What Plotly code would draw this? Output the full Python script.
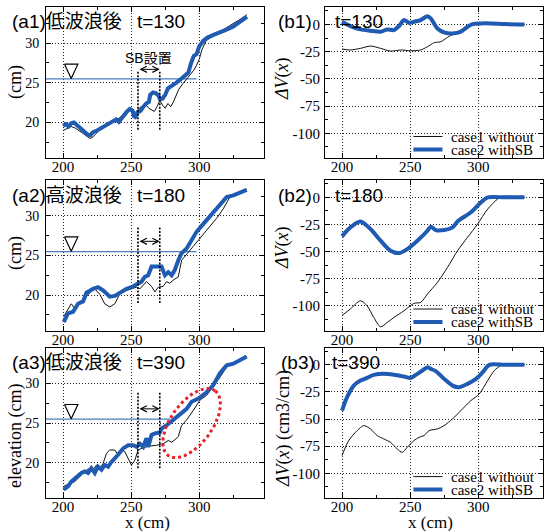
import numpy as np
import plotly.graph_objects as go

W, H = 552, 531

# ---------------- data ----------------
X_RANGE = [187.5, 347.5]
A_Y_RANGE = [15.5, 34.55]
B_Y_RANGE = [-123.0, 16.0]

# (a1) t=130 elevation
a1_case1_x = [200, 203, 206, 209, 212, 215, 218, 220, 222, 225, 228, 231, 234, 237, 240, 243, 246, 249, 251, 253,
              255, 257, 259, 261, 263, 265, 267, 269, 271, 273, 275, 277, 279, 281, 283, 285, 288, 291, 294, 296,
              298, 300, 302, 305, 310, 315, 320, 325, 330, 335]
a1_case1_y = [19.0, 19.3, 19.5, 19.3, 19.0, 18.6, 18.2, 18.0, 18.2, 18.8, 19.3, 19.6, 20.0, 20.2, 20.4, 20.8, 21.2, 21.7, 21.6, 21.3,
              21.6, 22.0, 21.8, 22.2, 21.8, 21.6, 21.4, 22.0, 22.8, 22.2, 21.8, 22.4, 22.0, 22.6, 23.4, 24.2, 24.9, 25.5, 26.1, 26.6,
              27.2, 28.0, 29.2, 30.3, 30.9, 31.4, 31.9, 32.5, 33.0, 33.6]
a1_case2_x = [200, 202, 204, 206, 208, 210, 212, 214, 216, 218, 220, 222, 225, 228, 231, 234, 237, 239, 241, 243,
              245, 247, 249, 251, 252, 253, 255, 257, 259, 261, 263, 264, 266, 268, 270, 271, 273, 275, 277, 280,
              283, 286, 289, 292, 294, 296, 298, 300, 303, 306, 310, 315, 320, 325, 330, 335]
a1_case2_y = [19.6, 19.8, 19.5, 19.9, 20.0, 19.7, 19.4, 19.1, 18.9, 18.5, 18.4, 18.8, 19.0, 19.3, 19.5, 19.8, 20.2, 20.4, 20.1, 20.6,
              21.0, 21.4, 21.7, 21.5, 20.8, 20.7, 21.3, 21.5, 22.0, 22.4, 22.6, 23.5, 23.8, 23.7, 23.4, 23.0, 23.0, 23.5, 24.3, 24.6,
              25.0, 25.4, 25.8, 26.3, 27.5, 28.4, 28.6, 29.6, 30.3, 30.7, 31.0, 31.3, 31.7, 32.1, 32.7, 33.3]

# (a2) t=180 elevation
a2_case1_x = [200.5, 203.7, 206.1, 208.6, 211, 214.7, 218.4, 223.3, 227, 230.6, 234.3, 238, 241.7, 246.6, 250.2, 253.9,
              256.4, 261.3, 265, 267.4, 269.9, 273.5, 276, 278.4, 280.9, 284.6, 287, 293.1, 300, 305.4, 312.7, 317.6,
              322.5, 334.8]
a2_case1_y = [17.3, 18.3, 18.9, 18.3, 18.9, 19.2, 20.1, 20.8, 20.1, 18.9, 18.5, 18.9, 20.2, 20.6, 20.8, 21.0,
              20.8, 21.7, 21.1, 20.4, 21.0, 21.1, 21.7, 21.5, 21.9, 22.3, 24.4, 25.7, 27.1, 28.2, 29.7, 30.9,
              32.4, 33.4]
a2_case2_x = [200.5, 203.7, 207.4, 211, 214.7, 217.2, 222, 225.7, 229.4, 234.3, 238, 241.7, 246.6, 250.2, 253.9, 257.6,
              260, 262.5, 265, 268.6, 272.3, 274.8, 277.2, 279.7, 282.1, 284.6, 287, 290.7, 294.4, 298, 303, 310.3,
              320.1, 325, 334.8]
a2_case2_y = [16.6, 17.7, 17.9, 18.9, 19.2, 20.3, 20.8, 21.0, 20.6, 19.8, 19.9, 20.3, 20.8, 21.0, 21.3, 21.7,
              22.3, 22.5, 23.6, 23.6, 23.6, 22.5, 22.9, 22.5, 23.2, 24.4, 25.3, 25.9, 27.1, 28.0, 29.0, 30.5,
              32.4, 32.6, 33.3]

# (a3) t=390 elevation
a3_case1_x = [200.5, 204.9, 208.6, 212.3, 215.9, 219.6, 222, 224.5, 227, 229.4, 231.9, 234.3, 238, 240.4, 242.9, 245.3,
              247.8, 250.2, 252.7, 255.1, 258.8, 263.7, 268.6, 273.5, 277.2, 279.7, 282.1, 284.6, 287, 290.7, 295.6,
              300.5, 305.4, 310.3, 315.2, 321.3, 325, 334.8]
a3_case1_y = [17.0, 17.4, 17.6, 18.2, 18.9, 19.3, 19.1, 19.7, 19.3, 19.9, 21.2, 21.6, 21.6, 21.0, 21.6, 21.4,
              20.5, 19.7, 20.3, 21.6, 21.9, 22.1, 22.2, 22.4, 22.8, 22.6, 22.9, 23.3, 24.7, 25.4, 26.6,
              27.9, 28.5, 29.6, 30.8, 32.4, 32.6, 33.4]
a3_case2_x = [200.5, 203.7, 206.1, 209.8, 213.5, 215.9, 218.4, 220.8, 223.3, 225.7, 228.2, 230.6, 233.1, 235.5, 238, 240.4,
              244.1, 247.8, 251.5, 254, 256.4, 258.8, 261.3, 262.5, 265, 267.4, 271, 272.3, 275.9, 280.9, 285.8, 290.7,
              294.4, 299.3, 305.4, 310.3, 315.2, 320.1, 325, 334.8]
a3_case2_y = [16.6, 17.0, 17.6, 18.2, 18.7, 18.9, 18.7, 19.3, 18.7, 19.5, 19.1, 19.7, 19.5, 20.1, 20.5, 21.0,
              21.8, 22.2, 22.2, 22.0, 22.4, 22.0, 23.1, 22.0, 23.5, 23.7, 23.8, 24.3, 24.7, 25.4, 26.0, 26.8,
              27.7, 28.1, 28.9, 29.8, 31.3, 32.3, 32.5, 33.4]

# (b1) t=130 volume change
b1_case1_x = [200, 206.1, 213.5, 220.9, 228.3, 235.6, 243, 250.4, 257.7, 262.7, 267.6, 272.5, 277.4, 284.8, 292.1,
              297.1, 304.4, 319.2, 333.9]
b1_case1_y = [-22.6, -23.5, -22.0, -19.9, -22.0, -24.5, -23.5, -24.2, -23.5, -20.5, -16.8, -15.9, -11.9, -6.7, -2.1,
              0.3, 0.3, 0.0, 0.0]
b1_case2_x = [200, 206.1, 213.5, 220.9, 228.3, 233.2, 238.1, 241.8, 245.5, 249.1, 252.8, 257.7, 262.7, 265.1, 270,
              274.9, 281.1, 287.2, 292.1, 295.8, 302, 309.3, 319.2, 333.9]
b1_case2_y = [2.4, -1.5, -4.6, -5.8, -6.7, -4.6, -5.2, -1.5, 4.0, 1.5, 2.4, 4.0, 7.6, 5.5, -3.7,
              -7.3, -8.3, -6.7, -2.1, 0.3, 0.9, 0.9, 0.3, 0.0]

# (b2) t=180 volume change
b2_case1_x = [200, 206.1, 213.5, 218.4, 223.3, 228.3, 233.2, 238.1, 245.5, 252.8, 257.7, 262.7, 270, 277.4, 284.8,
              292.1, 299.5, 306.9, 314.3, 319.2, 333.9]
b2_case1_y = [-109.0, -103.0, -95.4, -100.0, -110.8, -119.4, -115.4, -110.8, -104.6, -97.8, -96.9, -89.2, -78.5, -64.6, -49.2,
              -36.9, -24.6, -10.8, -1.5, 0.9, 0.0]
b2_case2_x = [200, 206.1, 213.5, 220.9, 228.3, 235.6, 241.8, 247.9, 255.3, 262.7, 265.1, 268.8, 274.9, 281.1, 284.8,
              294.6, 302, 306.9, 319.2, 333.9]
b2_case2_y = [-36.0, -27.7, -22.2, -29.2, -40.0, -49.2, -51.4, -47.7, -40.0, -30.8, -27.1, -30.2, -30.2, -27.7, -22.2,
              -13.8, -4.6, 0.0, 0.0, 0.0]

# (b3) t=390 volume change
b3_case1_x = [200, 204.9, 211.1, 216, 220.9, 225.8, 230.7, 235.6, 240.5, 244.2, 247.9, 252.8, 256.5, 260.2, 263.9,
              270, 274.9, 281.1, 287.2, 294.6, 300.7, 306.9, 311.8, 316.7, 321.6, 333.9]
b3_case1_y = [-83.7, -69.8, -60.6, -56.0, -59.1, -65.2, -68.3, -71.4, -77.5, -80.6, -76.0, -69.8, -66.8, -65.2, -60.6,
              -59.1, -56.0, -49.8, -42.2, -32.9, -26.8, -14.5, -5.2, -0.6, 0.0, 0.0]
b3_case2_x = [200, 203.7, 208.6, 213.5, 218.4, 223.3, 230.7, 238.1, 245.5, 250.4, 255.3, 259, 262.7, 265.1, 268.8,
              274.9, 281.1, 286, 292.1, 298.3, 303.2, 308.1, 319.2, 333.9]
b3_case2_y = [-42.2, -29.8, -19.1, -14.5, -12.0, -9.2, -8.3, -9.2, -10.8, -12.0, -8.3, -5.2, -2.2, -3.7, -5.8,
              -12.9, -19.1, -20.6, -17.5, -12.9, -6.8, 0.0, 0.0, 0.0]

a_titles = ["(a1)低波浪後", "(a2)高波浪後", "(a3)低波浪後"]
b_titles = ["(b1)", "(b2)", "(b3)"]
t_labels = ["t=130", "t=180", "t=390"]
legend_names = ["case1 without", "case2 withSB"]

# annotation parameters (water level, SB position)
WL = 25.5
WL_END = [298, 298, 278.5]
SB_X = [255, 271]
SB_Y0 = [19.1, 19.0, 19.3]
SB_Y1 = [26.6, 28.6, 28.9]
ARROW_Y = [26.7, 26.8, 26.8]
TRI_X, TRI_HALF_W, TRI_TOP = 206.0, 4.9, 27.35

BLACK = "#111111"
BLUE = "#1f5bb3"
WL_BLUE = "#4a7cc0"

# ---------------- layout geometry (pixels) ----------------
XA = (46, 264)
XB = (325, 543)
ROWS = [(7, 158.3), (180, 330.7), (347.5, 498.3)]

def px(p):
    return p / W

def py(p):
    return 1 - p / H

fig = go.Figure()

serif = "Liberation Serif"
sans = "Liberation Sans, Noto Sans CJK JP"

a_data = [(a1_case1_x, a1_case1_y, a1_case2_x, a1_case2_y),
          (a2_case1_x, a2_case1_y, a2_case2_x, a2_case2_y),
          (a3_case1_x, a3_case1_y, a3_case2_x, a3_case2_y)]
b_data = [(b1_case1_x, b1_case1_y, b1_case2_x, b1_case2_y),
          (b2_case1_x, b2_case1_y, b2_case2_x, b2_case2_y),
          (b3_case1_x, b3_case1_y, b3_case2_x, b3_case2_y)]

def axis_common():
    return dict(showline=True, linecolor="black", linewidth=1, mirror="ticks",
                ticks="inside", ticklen=5, tickwidth=1, tickcolor="black",
                showgrid=True, gridcolor="#222", griddash="1px,2px", gridwidth=1,
                zeroline=False, tickfont=dict(family=serif, size=15, color="black"))

layout_axes = {}
annotations = []
shapes = []

def txt(x, y, text, size, family, xanchor="center", angle=0, xref="paper", yref="paper"):
    return dict(x=x, y=y, xref=xref, yref=yref, text=text, showarrow=False, textangle=angle,
                xanchor=xanchor, yanchor="middle", font=dict(family=family, size=size, color="black"))

for r in range(3):
    ia = 2 * r + 1
    ib = 2 * r + 2
    xa_name = "x" if ia == 1 else f"x{ia}"
    ya_name = "y" if ia == 1 else f"y{ia}"
    xb_name = f"x{ib}"
    yb_name = f"y{ib}"
    top, bot = ROWS[r]
    ydom = [py(bot), py(top)]

    # x axes
    for name, xd, yname in [(xa_name, XA, ya_name), (xb_name, XB, yb_name)]:
        ax = axis_common()
        ax.update(domain=[px(xd[0]), px(xd[1])], range=X_RANGE, anchor=yname,
                  tickvals=[200, 250, 300], ticklabelstandoff=-5,
                  minor=dict(ticks="inside", ticklen=3, tickcolor="black", tickvals=[225, 275, 325], showgrid=False))
        key = "xaxis" if name == "x" else "xaxis" + name[1:]
        layout_axes[key] = ax
    # a y axis
    ay = axis_common()
    ay.update(domain=ydom, range=A_Y_RANGE, anchor=xa_name, tickvals=[20, 25, 30],
              tickfont=dict(family=serif, size=14, color="black"), ticklabelstandoff=3,
              minor=dict(ticks="inside", ticklen=3, tickcolor="black", tickvals=[17.5, 22.5, 27.5, 32.5], showgrid=False))
    layout_axes["yaxis" if ya_name == "y" else "yaxis" + ya_name[1:]] = ay
    # b y axis
    byv = [0, -25, -50, -75, -100]
    by = axis_common()
    by.update(domain=ydom, range=B_Y_RANGE, anchor=xb_name, tickvals=byv,
              ticktext=[str(v) for v in byv], ticklabelstandoff=1,
              minor=dict(ticks="inside", ticklen=3, tickcolor="black",
                         tickvals=[12.5, -12.5, -37.5, -62.5, -87.5, -112.5], showgrid=False))
    layout_axes["yaxis" + yb_name[1:]] = by

    # ---- a traces ----
    c1x, c1y, c2x, c2y = a_data[r]
    fig.add_trace(go.Scatter(x=[X_RANGE[0], WL_END[r]], y=[WL, WL], mode="lines",
                             line=dict(color=WL_BLUE, width=1.3), xaxis=xa_name, yaxis=ya_name,
                             showlegend=False, hoverinfo="skip"))
    fig.add_trace(go.Scatter(x=c1x, y=c1y, mode="lines", line=dict(color=BLACK, width=1),
                             xaxis=xa_name, yaxis=ya_name, showlegend=False, name=legend_names[0]))
    fig.add_trace(go.Scatter(x=c2x, y=c2y, mode="lines", line=dict(color=BLUE, width=4),
                             xaxis=xa_name, yaxis=ya_name, showlegend=False, name=legend_names[1]))
    fig.add_trace(go.Scatter(x=[TRI_X - TRI_HALF_W, TRI_X + TRI_HALF_W, TRI_X, TRI_X - TRI_HALF_W],
                             y=[TRI_TOP, TRI_TOP, WL + 0.05, TRI_TOP], mode="lines",
                             line=dict(color="black", width=1.2), xaxis=xa_name, yaxis=ya_name,
                             showlegend=False, hoverinfo="skip"))
    for sx in SB_X:
        fig.add_trace(go.Scatter(x=[sx, sx], y=[SB_Y0[r], SB_Y1[r]], mode="lines",
                                 line=dict(color="black", width=1.6, dash="2px,1.5px"),
                                 xaxis=xa_name, yaxis=ya_name, showlegend=False, hoverinfo="skip"))
    annotations.append(dict(x=SB_X[1], y=ARROW_Y[r], ax=SB_X[0], ay=ARROW_Y[r], xref=xa_name, yref=ya_name,
                            axref=xa_name, ayref=ya_name, showarrow=True, arrowhead=5, startarrowhead=5,
                            arrowside="end+start", arrowwidth=1, arrowsize=1.2, arrowcolor="black", text=""))
    if r == 0:
        annotations.append(txt((SB_X[0] + SB_X[1]) / 2, 28.1, "SB設置", 14, sans, xref=xa_name, yref=ya_name))
    if r == 2:
        th = np.linspace(0, 2 * np.pi, 200)
        cx, cy, a_px, b_px, ang = 294.4, 25.0, 40.0, 20.7, np.deg2rad(54)
        dx = a_px * np.cos(th) * np.cos(ang) - b_px * np.sin(th) * np.sin(ang)
        dy = a_px * np.cos(th) * np.sin(ang) + b_px * np.sin(th) * np.cos(ang)
        xs = cx + dx / (218 / (X_RANGE[1] - X_RANGE[0]))
        ys = cy + dy / ((bot - top) / (A_Y_RANGE[1] - A_Y_RANGE[0]))
        fig.add_trace(go.Scatter(x=xs, y=ys, mode="lines", line=dict(color="#e8202a", width=3, dash="dot"),
                                 xaxis=xa_name, yaxis=ya_name, showlegend=False, hoverinfo="skip"))

    # ---- b traces ----
    c1x, c1y, c2x, c2y = b_data[r]
    fig.add_trace(go.Scatter(x=c1x, y=c1y, mode="lines", line=dict(color=BLACK, width=1, shape="spline", smoothing=0.8),
                             xaxis=xb_name, yaxis=yb_name, showlegend=False, name=legend_names[0]))
    fig.add_trace(go.Scatter(x=c2x, y=c2y, mode="lines", line=dict(color=BLUE, width=4, shape="spline", smoothing=0.8),
                             xaxis=xb_name, yaxis=yb_name, showlegend=False, name=legend_names[1]))
    for k, (ly, col, lw) in enumerate([(-103, BLACK, 1), (-115, BLUE, 4)]):
        shapes.append(dict(type="line", xref=xb_name, yref=yb_name, x0=252.4, x1=273.7, y0=ly, y1=ly,
                           line=dict(color=col, width=lw)))
        annotations.append(txt(278.5, ly, legend_names[k], 15, serif, xanchor="left", xref=xb_name, yref=yb_name))

    # panel labels
    label_y = [21.7, 195, 362][r]
    annotations.append(txt(px(10), py(label_y), a_titles[r], 19, sans, xanchor="left"))
    annotations.append(txt(px(135), py(label_y), t_labels[r], 19, sans, xanchor="left"))
    annotations.append(txt(px(276 if r < 2 else 279), py(label_y), b_titles[r], 19, sans, xanchor="left"))
    annotations.append(txt(px(333 if r < 2 else 330), py(label_y), t_labels[r], 19, sans, xanchor="left"))

# axis titles
for (xc, yc, t) in [(15, 82, "(cm)"), (15, 253, "(cm)"), (15, 436, "elevation (cm)")]:
    annotations.append(txt(px(xc), py(yc), t, 18, serif, angle=-90))
for (xc, yc, t) in [(283, 78, "<i>ΔV</i>(<i>x</i>)"), (283, 247, "<i>ΔV</i>(<i>x</i>)"),
                    (283, 428, "<i>ΔV</i>(<i>x</i>) (cm3/cm)")]:
    annotations.append(txt(px(xc), py(yc), t, 18, serif, angle=-90))
for xc in [147, 430]:
    annotations.append(txt(px(xc), py(522.5), "x (cm)", 17, serif))

fig.update_layout(width=W, height=H, margin=dict(l=0, r=0, t=0, b=0),
                  paper_bgcolor="white", plot_bgcolor="white", showlegend=False,
                  annotations=annotations, shapes=shapes, **layout_axes)

fig.write_html("out.html")
